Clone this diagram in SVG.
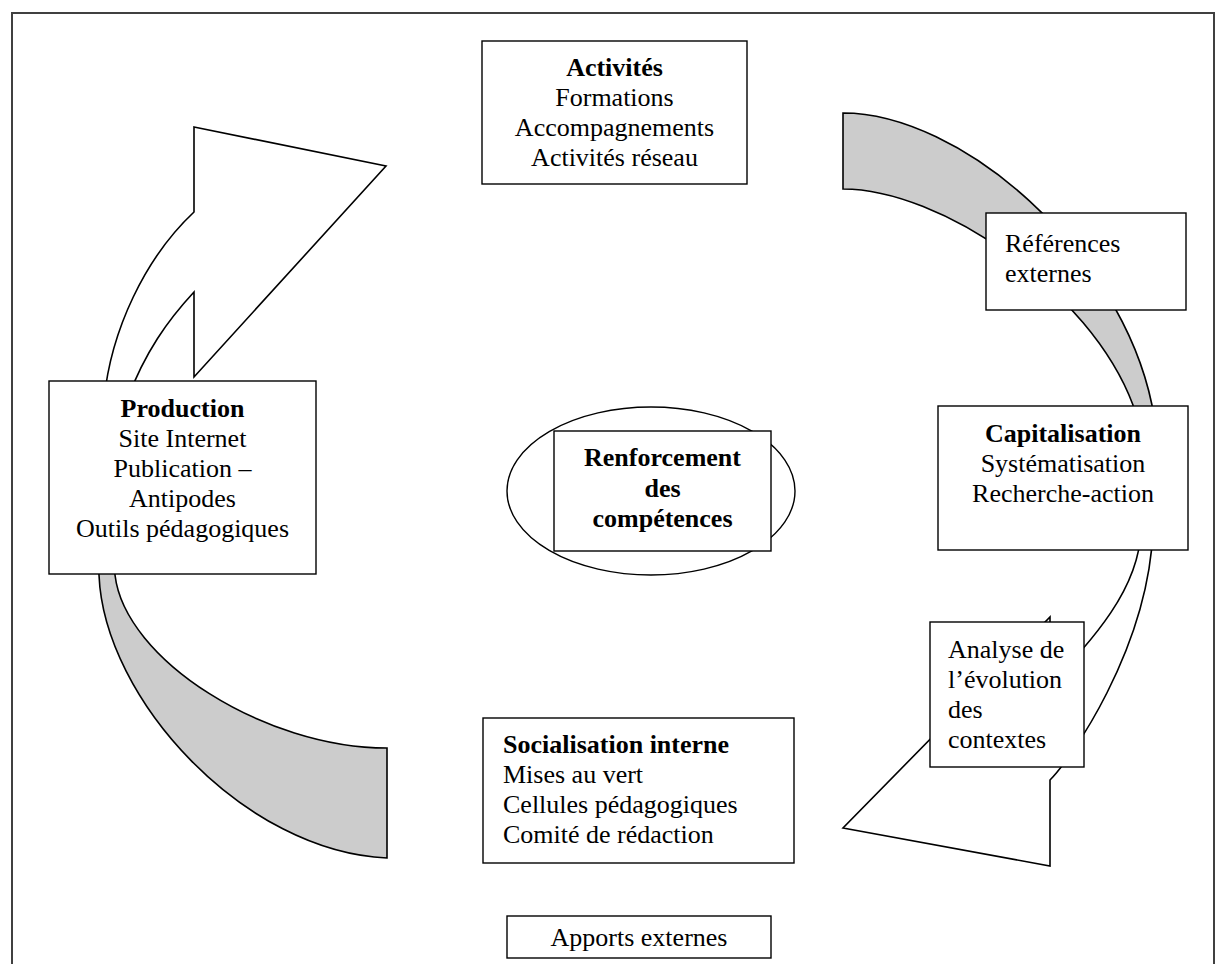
<svg xmlns="http://www.w3.org/2000/svg" width="1226" height="964" viewBox="0 0 1226 964">
<style>
.box{fill:#fff;stroke:#000;stroke-width:1.4}
.arrow{fill:#fff;stroke:#000;stroke-width:1.6;stroke-linejoin:miter}
.grey{fill:#ccc;stroke:#000;stroke-width:1.6}
text{font-family:"Liberation Serif","Times New Roman",serif;font-size:26px;fill:#000}
.b{font-weight:bold}
.c{text-anchor:middle}
</style>
<rect width="1226" height="964" fill="#fff"/>
<rect id="frame" x="12" y="13" width="1202" height="1000" fill="none" stroke="#404040" stroke-width="2"/>
<g id="connectors">
  <path class="arrow" d="M194,127 L386,166 L194,377 L194,292 C168,320 145,352 127,400 L104,400 C111,330 145,258 194,212 Z"/>
  <path class="grey" d="M98,555 L99,575 C104,700 245,852 387,858 L387,748 C265,748 125,660 115,575 L113,555 Z"/>
  <path class="grey" d="M843,113 C960,113 1120,250 1152,405 L1157,470 L1141,470 L1133,405 C1090,290 940,189 843,189 Z"/>
  <path class="arrow" d="M843,828 L1050,866 L1050,780 C1070,760 1148,650 1153,530 L1141,530 C1139,590 1092,640 1050,685 L1050,617 Z"/>
</g>
<g id="activites">
  <rect class="box" x="482" y="41" width="265" height="143"/>
  <text class="c b" x="614.5" y="76">Activités</text>
  <text class="c" x="614.5" y="106">Formations</text>
  <text class="c" x="614.5" y="136">Accompagnements</text>
  <text class="c" x="614.5" y="166">Activités réseau</text>
</g>
<g id="references">
  <rect class="box" x="986" y="213" width="200" height="97"/>
  <text x="1005" y="252">Références</text>
  <text x="1005" y="282">externes</text>
</g>
<g id="capitalisation">
  <rect class="box" x="938" y="406" width="250" height="144"/>
  <text class="c b" x="1063" y="442">Capitalisation</text>
  <text class="c" x="1063" y="472">Systématisation</text>
  <text class="c" x="1063" y="502">Recherche-action</text>
</g>
<g id="analyse">
  <rect class="box" x="930" y="622" width="154" height="145"/>
  <text x="948" y="658">Analyse de</text>
  <text x="948" y="688">l’évolution</text>
  <text x="948" y="718">des</text>
  <text x="948" y="748">contextes</text>
</g>
<g id="socialisation">
  <rect class="box" x="483" y="718" width="311" height="145"/>
  <text class="b" x="503" y="753">Socialisation interne</text>
  <text x="503" y="783">Mises au vert</text>
  <text x="503" y="813">Cellules pédagogiques</text>
  <text x="503" y="843">Comité de rédaction</text>
</g>
<g id="apports">
  <rect class="box" x="507" y="916" width="264" height="42"/>
  <text class="c" x="639" y="946">Apports externes</text>
</g>
<g id="production">
  <rect class="box" x="49" y="381" width="267" height="193"/>
  <text class="c b" x="182.5" y="417">Production</text>
  <text class="c" x="182.5" y="447">Site Internet</text>
  <text class="c" x="182.5" y="477">Publication –</text>
  <text class="c" x="182.5" y="507">Antipodes</text>
  <text class="c" x="182.5" y="537">Outils pédagogiques</text>
</g>
<g id="renforcement">
  <ellipse class="box" cx="651" cy="491" rx="144" ry="84"/>
  <rect class="box" x="554" y="431" width="217" height="120"/>
  <text class="c b" x="662.5" y="466">Renforcement</text>
  <text class="c b" x="662.5" y="497">des</text>
  <text class="c b" x="662.5" y="527">compétences</text>
</g>
</svg>
